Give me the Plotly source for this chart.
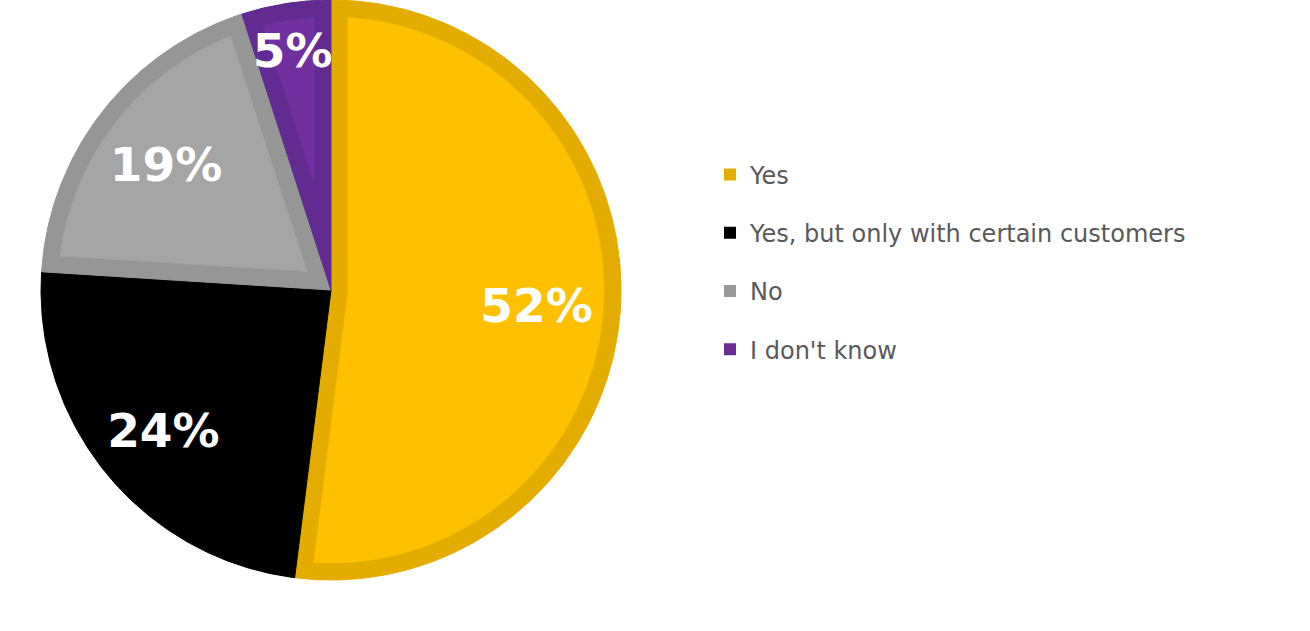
import math
import plotly.graph_objects as go

# ---- data ----
labels = ["Yes", "Yes, but only with certain customers", "No", "I don't know"]
values = [52, 24, 19, 5]
pct_text = ["52%", "24%", "19%", "5%"]

# ---- style ----
fill_colors = ["#FFC000", "#000000", "#A5A5A5", "#7030A0"]
border_colors = ["#E5AC00", "#000000", "#969696", "#612B91"]
legend_colors = ["#E5AC00", "#000000", "#999999", "#6A2C96"]
label_radius = [0.71, 0.75, 0.72, 0.845]
LABEL_DY = -7 / 290.0
R = 1.0
BORDER = 17 / 290.0
W, H = 1310, 631
CX, CY, RPX = 331, 290, 290  # pie centre/radius in pixels (layout only)


def pt(r, a):
    a = math.radians(a)
    return r * math.sin(a), r * math.cos(a)


def arc(r, a1, a2, n):
    return [pt(r, a1 + (a2 - a1) * k / n) for k in range(n + 1)]


def outer_poly(a1, a2):
    pts = [(0.0, 0.0)] + arc(R, a1, a2, 200) + [(0.0, 0.0)]
    return [p[0] for p in pts], [p[1] for p in pts]


def inner_poly(a1, a2, t):
    alpha = a2 - a1
    d = math.degrees(math.asin(t / (R - t)))
    pts = arc(R - t, a1 + d, a2 - d, 200)
    if alpha < 180:
        pts.append(pt(t / math.sin(math.radians(alpha / 2)), a1 + alpha / 2))
    else:
        pts += arc(t, a2 - 90, a1 + 90, 30)
    pts.append(pts[0])
    return [p[0] for p in pts], [p[1] for p in pts]


fig = go.Figure()
total = sum(values)
start = 0.0
label_x, label_y = [], []
for i, v in enumerate(values):
    span = 360.0 * v / total
    a1, a2 = start, start + span
    ox, oy = outer_poly(a1, a2)
    fig.add_trace(go.Scatter(x=ox, y=oy, fill="toself", fillcolor=border_colors[i],
                             mode="lines", line=dict(color=border_colors[i], width=1),
                             showlegend=False, hoverinfo="skip"))
    ix, iy = inner_poly(a1, a2, BORDER)
    fig.add_trace(go.Scatter(x=ix, y=iy, fill="toself", fillcolor=fill_colors[i],
                             mode="lines", line=dict(color=fill_colors[i], width=0.5),
                             showlegend=False, hoverinfo="skip"))
    lx, ly = pt(label_radius[i], (a1 + a2) / 2)
    label_x.append(lx)
    label_y.append(ly + LABEL_DY)
    start = a2

fig.add_trace(go.Scatter(x=label_x, y=label_y, mode="text", text=pct_text,
                         textfont=dict(family="DejaVu Sans", size=47, color="white", weight="bold"),
                         showlegend=False, hoverinfo="skip"))

for i, lab in enumerate(labels):
    fig.add_trace(go.Scatter(x=[None], y=[None], mode="markers", name=lab,
                             legendgroup=f"g{i}",
                             marker=dict(symbol="square", size=16, color=legend_colors[i])))

fig.update_layout(
    width=W, height=H,
    margin=dict(l=0, r=0, t=0, b=0),
    paper_bgcolor="white", plot_bgcolor="white",
    xaxis=dict(range=[-CX / RPX, (W - CX) / RPX], visible=False, fixedrange=True),
    yaxis=dict(range=[-(H - CY) / RPX, CY / RPX], visible=False, fixedrange=True),
    showlegend=True,
    legend=dict(x=710 / W, xanchor="left", y=1 - 262 / H, yanchor="middle",
                font=dict(family="DejaVu Sans", size=24, color="#595959"),
                tracegroupgap=24, bgcolor="rgba(0,0,0,0)", itemsizing="constant"),
)

fig.write_html("out.html", config={"displayModeBar": False},
               post_script="document.body.style.margin='0';")
